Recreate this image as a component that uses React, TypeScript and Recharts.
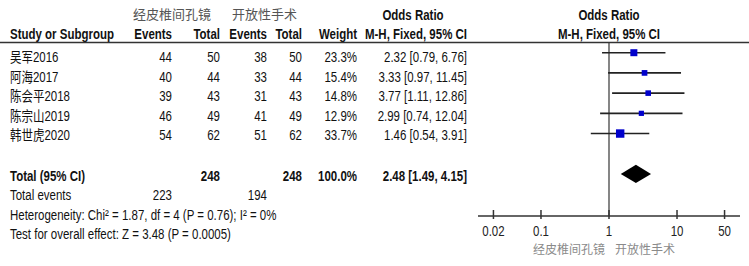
import React from 'react';
import {
  ErrorBar,
  ReferenceArea,
  ReferenceLine,
  Scatter,
  ScatterChart,
  XAxis,
  YAxis,
} from 'recharts';

const studies = ['吴军2016', '阿海2017', '陈会平2018', '陈宗山2019', '韩世虎2020'];
const expEvents = [44, 40, 39, 46, 54];
const expTotal = [50, 44, 43, 49, 62];
const ctrlEvents = [38, 33, 31, 41, 51];
const ctrlTotal = [50, 44, 43, 49, 62];
const weights = [23.3, 15.4, 14.8, 12.9, 33.7];
const oddsRatios = [2.32, 3.33, 3.77, 2.99, 1.46];
const ciLow = [0.79, 0.97, 1.11, 0.74, 0.54];
const ciHigh = [6.76, 11.45, 12.86, 12.04, 3.91];
const pooled = { or: 2.48, low: 1.49, high: 4.15, events1: 223, events2: 194, total1: 248, total2: 248 };
const axisTicks = [0.02, 0.1, 1, 10, 50];
const groupNames = ['经皮椎间孔镜', '开放性手术'];

const FONT = "'Liberation Sans', Arial, 'Noto Sans CJK SC', sans-serif";
const CJK = "'Noto Sans CJK SC', sans-serif";

const rows = studies.map((name, i) => {
  const x = Math.log10(oddsRatios[i]);
  return {
    name,
    x,
    y: i,
    w: weights[i],
    err: [x - Math.log10(ciLow[i]), Math.log10(ciHigh[i]) - x],
  };
});

const fmtCI = (or: number, lo: number, hi: number) =>
  `${or.toFixed(2)} [${lo.toFixed(2)}, ${hi.toFixed(2)}]`;

const tickLabel = (v: number) => String(parseFloat(Math.pow(10, v).toPrecision(2)));

function T({
  x,
  y,
  anchor = 'start',
  bold = false,
  fill = '#111',
  children,
}: {
  x: number;
  y: number;
  anchor?: 'start' | 'middle' | 'end';
  bold?: boolean;
  fill?: string;
  children: React.ReactNode;
}) {
  return (
    <text
      transform={`translate(${x},${y}) scale(0.82,1)`}
      textAnchor={anchor}
      fontFamily={FONT}
      fontSize={14}
      fontWeight={bold ? 700 : 400}
      fill={fill}
    >
      {children}
    </text>
  );
}

const renderTick = (props: any) => {
  const { x, y, payload } = props;
  return (
    <g>
      <line x1={x} x2={x} y1={y - 6} y2={y + 3} stroke="#333" strokeWidth={1.5} />
      <T x={x} y={y + 20} anchor="middle" fill="#222">
        {tickLabel(payload.value)}
      </T>
    </g>
  );
};

const Square = (props: any) => {
  const { cx, cy, payload } = props;
  const s = Math.sqrt(payload.w) * 1.45;
  return <rect x={cx - s / 2} y={cy - s / 2} width={s} height={s} fill="#0000cc" />;
};

const Diamond = (props: any) => {
  const x = props.x;
  const w = props.width;
  const y = Math.min(props.y, props.y + props.height);
  const h = Math.abs(props.height);
  const pts = [
    [x, y + h / 2],
    [x + w / 2, y],
    [x + w, y + h / 2],
    [x + w / 2, y + h],
  ]
    .map((p) => p.join(','))
    .join(' ');
  return <polygon points={pts} fill="#000" />;
};

const cols = { ev1: 172, tot1: 220, ev2: 267, tot2: 302, wt: 357, ci: 467 };

export default function App() {
  const rowY = (i: number) => 62 + i * 19.5;
  return (
    <div style={{ position: 'relative', width: 749, height: 266, background: '#fff' }}>
      <style>{`body{margin:0}`}</style>
      <div style={{ position: 'absolute', left: 0, top: 0 }}>
        <ScatterChart width={749} height={266} margin={{ top: 43, right: 9, bottom: 10, left: 478 }}>
          <XAxis
            type="number"
            dataKey="x"
            domain={[-1.926, 1.926]}
            ticks={axisTicks.map((v) => Math.log10(v))}
            interval={0}
            allowDataOverflow
            axisLine={{ stroke: '#333', strokeWidth: 1.5 }}
            tickLine={false}
            tickSize={0}
            tickMargin={0}
            tickFormatter={tickLabel}
            height={40}
            tick={renderTick}
          />
          <YAxis type="number" dataKey="y" domain={[-0.48, 8.08]} reversed hide />
          <ReferenceLine x={0} stroke="#444" strokeWidth={1.3} />
          <ReferenceArea
            x1={Math.log10(pooled.low)}
            x2={Math.log10(pooled.high)}
            y1={6 - 0.45}
            y2={6 + 0.45}
            shape={<Diamond />}
          />
          <Scatter data={rows} shape={<Square />} isAnimationActive={false}>
            <ErrorBar dataKey="err" direction="x" width={0} stroke="#222" strokeWidth={1.6} />
          </Scatter>
        </ScatterChart>
      </div>
      <svg
        width={749}
        height={266}
        style={{ position: 'absolute', left: 0, top: 0, pointerEvents: 'none' }}
      >
        <text x={133} y={19} fontFamily={CJK} fontSize={13} fill="#555">
          {groupNames[0]}
        </text>
        <text x={232} y={19} fontFamily={CJK} fontSize={13} fill="#555">
          {groupNames[1]}
        </text>
        <T x={413} y={20} anchor="middle" bold>
          Odds Ratio
        </T>
        <T x={609} y={20} anchor="middle" bold>
          Odds Ratio
        </T>
        <T x={10} y={39} bold>
          Study or Subgroup
        </T>
        <T x={cols.ev1} y={39} anchor="end" bold>
          Events
        </T>
        <T x={cols.tot1} y={39} anchor="end" bold>
          Total
        </T>
        <T x={cols.ev2} y={39} anchor="end" bold>
          Events
        </T>
        <T x={cols.tot2} y={39} anchor="end" bold>
          Total
        </T>
        <T x={cols.wt} y={39} anchor="end" bold>
          Weight
        </T>
        <T x={cols.ci} y={39} anchor="end" bold>
          M-H, Fixed, 95% CI
        </T>
        <T x={609} y={39} anchor="middle" bold>
          M-H, Fixed, 95% CI
        </T>
        <line x1={0} x2={749} y1={42.5} y2={42.5} stroke="#333" strokeWidth={1.5} />

        {studies.map((s, i) => (
          <g key={s}>
            <T x={10} y={rowY(i)}>{s}</T>
            <T x={cols.ev1} y={rowY(i)} anchor="end">{expEvents[i]}</T>
            <T x={cols.tot1} y={rowY(i)} anchor="end">{expTotal[i]}</T>
            <T x={cols.ev2} y={rowY(i)} anchor="end">{ctrlEvents[i]}</T>
            <T x={cols.tot2} y={rowY(i)} anchor="end">{ctrlTotal[i]}</T>
            <T x={cols.wt} y={rowY(i)} anchor="end">{`${weights[i].toFixed(1)}%`}</T>
            <T x={cols.ci} y={rowY(i)} anchor="end">
              {fmtCI(oddsRatios[i], ciLow[i], ciHigh[i])}
            </T>
          </g>
        ))}

        <T x={10} y={180.5} bold>
          Total (95% CI)
        </T>
        <T x={cols.tot1} y={180.5} anchor="end" bold>{pooled.total1}</T>
        <T x={cols.tot2} y={180.5} anchor="end" bold>{pooled.total2}</T>
        <T x={cols.wt} y={180.5} anchor="end" bold>100.0%</T>
        <T x={cols.ci} y={180.5} anchor="end" bold>
          {fmtCI(pooled.or, pooled.low, pooled.high)}
        </T>
        <T x={10} y={200}>Total events</T>
        <T x={cols.ev1} y={200} anchor="end">{pooled.events1}</T>
        <T x={cols.ev2} y={200} anchor="end">{pooled.events2}</T>
        <T x={10} y={219.5}>Heterogeneity: Chi² = 1.87, df = 4 (P = 0.76); I² = 0%</T>
        <T x={10} y={239}>Test for overall effect: Z = 3.48 (P = 0.0005)</T>

        <text x={605} y={254} textAnchor="end" fontFamily={CJK} fontSize={12} fill="#8a8a8a">
          {groupNames[0]}
        </text>
        <text x={615} y={254} fontFamily={CJK} fontSize={12} fill="#8a8a8a">
          {groupNames[1]}
        </text>
      </svg>
    </div>
  );
}
